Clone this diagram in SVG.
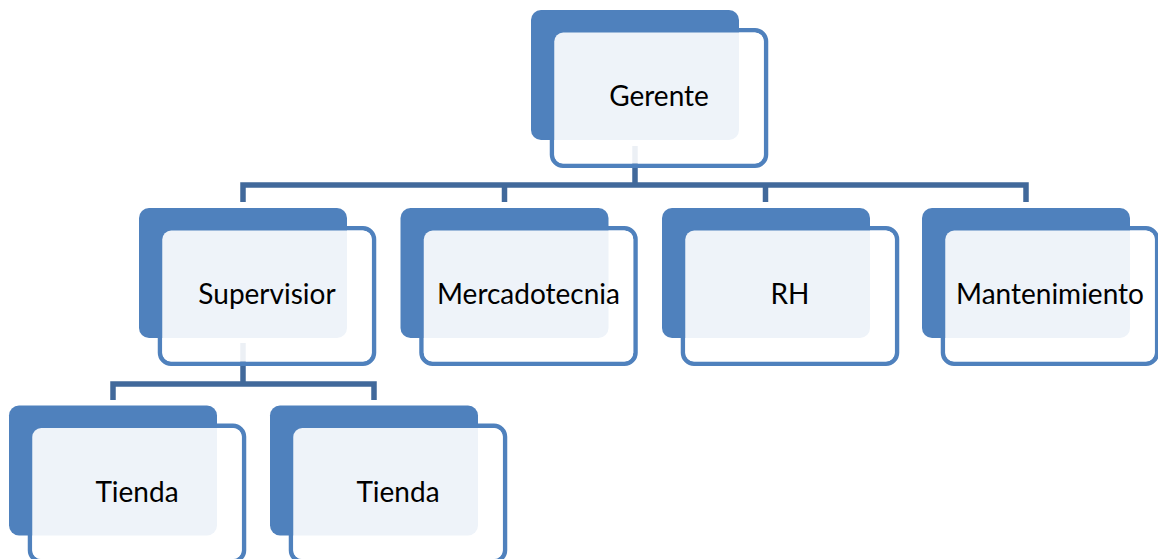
<svg xmlns="http://www.w3.org/2000/svg" width="1158" height="559" viewBox="0 0 1158 559">
  <style>
    .conn { fill: none; stroke: #41699B; stroke-width: 5.5; stroke-linejoin: miter; }
    .back { fill: #4F81BD; }
    .edge { fill: none; stroke: #4F81BD; stroke-width: 4.5; }
    .face { fill: #FFFFFF; fill-opacity: 0.9; }
    .label { font-family: Lato, "Open Sans", sans-serif; font-size: 28px; fill: #000000; text-anchor: middle; }
  </style>
  <defs>
    <!-- one org-chart box: outlined card offset behind a solid tab, with a translucent face -->
    <g id="box">
      <rect class="edge" x="21" y="20.25" width="214" height="135.5" rx="11"/>
      <rect class="back" x="0" y="0" width="208" height="130" rx="10"/>
      <rect class="face" x="23.25" y="22.5" width="209.5" height="131" rx="9"/>
    </g>
  </defs>
  <rect width="1158" height="559" fill="#FFFFFF"/>

  <g id="connectors">
    <path class="conn" d="M635,146 V185"/>
    <path class="conn" d="M243,202 V185 H1026 V202"/>
    <path class="conn" d="M504.5,185 V202"/>
    <path class="conn" d="M765.5,185 V202"/>
    <path class="conn" d="M243,343 V384"/>
    <path class="conn" d="M113,400 V384 H374 V400"/>
  </g>

  <g id="gerente">
    <use href="#box" x="531" y="10"/>
    <text class="label" x="659" y="106">Gerente</text>
  </g>
  <g id="supervisior">
    <use href="#box" x="139" y="208"/>
    <text class="label" x="267" y="304">Supervisior</text>
  </g>
  <g id="mercadotecnia">
    <use href="#box" x="400.5" y="208"/>
    <text class="label" x="528.5" y="304">Mercadotecnia</text>
  </g>
  <g id="rh">
    <use href="#box" x="662" y="208"/>
    <text class="label" x="790" y="304">RH</text>
  </g>
  <g id="mantenimiento">
    <use href="#box" x="922" y="208"/>
    <text class="label" x="1050" y="304">Mantenimiento</text>
  </g>
  <g id="tienda-1">
    <use href="#box" x="9" y="405.5"/>
    <text class="label" x="137" y="501.5">Tienda</text>
  </g>
  <g id="tienda-2">
    <use href="#box" x="270" y="405.5"/>
    <text class="label" x="398" y="501.5">Tienda</text>
  </g>
</svg>
